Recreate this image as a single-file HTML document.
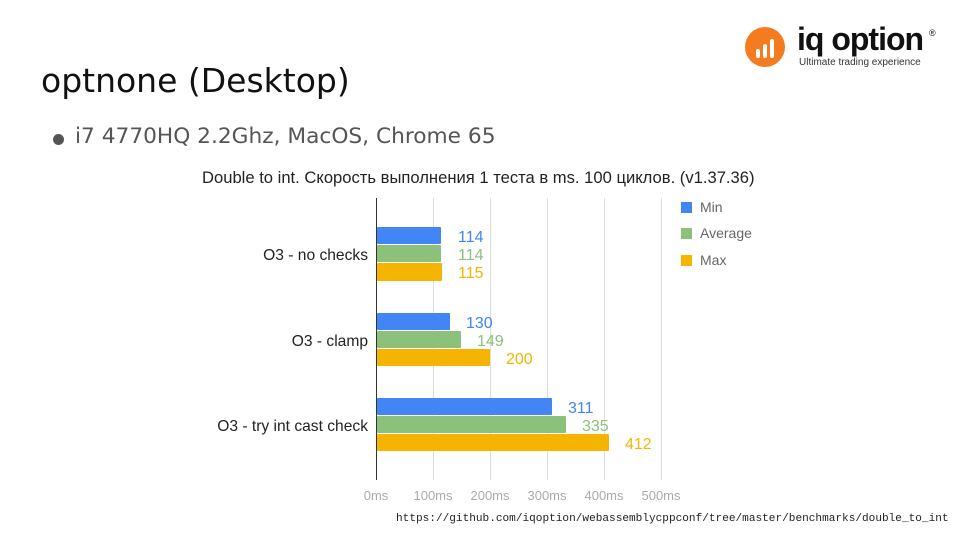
<!DOCTYPE html>
<html><head><meta charset="utf-8"><style>
body{margin:0;width:960px;height:540px;background:#fff;position:relative;overflow:hidden;font-family:"Liberation Sans",sans-serif}
.a{position:absolute;white-space:nowrap}
</style></head><body>
<div class="a" style="left:41px;top:61px;font-size:33px;color:#111;font-family:'DejaVu Sans',sans-serif">optnone (Desktop)</div>
<div class="a" style="left:53px;top:134px;width:11px;height:11px;border-radius:50%;background:#555"></div>
<div class="a" style="left:75px;top:124px;font-size:21.7px;color:#555;font-family:'DejaVu Sans',sans-serif">i7 4770HQ 2.2Ghz, MacOS, Chrome 65</div>
<svg class="a" style="left:744px;top:26px" width="42" height="42"><circle cx="21" cy="21" r="20" fill="#f47b20"/><rect x="12" y="23" width="4" height="9" fill="#fff" rx="2"/><rect x="19" y="18" width="4" height="14" fill="#fff" rx="2"/><rect x="26" y="13" width="4" height="19" fill="#fff" rx="2"/></svg>
<div class="a" style="left:797px;top:21px;font-size:32px;font-weight:bold;color:#111;letter-spacing:-1px">iq option</div>
<div class="a" style="left:929px;top:28px;font-size:9px;color:#111">®</div>
<div class="a" style="left:799px;top:57px;font-size:10px;color:#333">Ultimate trading experience</div>
<div class="a" style="left:202px;top:168px;font-size:16.6px;color:#222">Double to int. Скорость выполнения 1 теста в ms. 100 циклов. (v1.37.36)</div>
<svg class="a" style="left:0;top:0" width="960" height="540" font-family="Liberation Sans, sans-serif">
<g stroke="#ddd" stroke-width="1"><line x1="433.5" y1="198" x2="433.5" y2="480"/><line x1="490.5" y1="198" x2="490.5" y2="480"/><line x1="547.5" y1="198" x2="547.5" y2="480"/><line x1="604.5" y1="198" x2="604.5" y2="480"/><line x1="661.5" y1="198" x2="661.5" y2="480"/></g>
<line x1="376.5" y1="198" x2="376.5" y2="480" stroke="#333"/>
<g>
<rect x="377" y="227" width="64" height="17" fill="#4285f4" rx="1"/><rect x="377" y="245" width="64" height="17" fill="#8bc17a" rx="1"/><rect x="377" y="263" width="65" height="18" fill="#f4b400" rx="1"/>
<rect x="377" y="313" width="73" height="17" fill="#4285f4" rx="1"/><rect x="377" y="331" width="84" height="17" fill="#8bc17a" rx="1"/><rect x="377" y="349" width="113" height="17" fill="#f4b400" rx="1"/>
<rect x="377" y="398" width="175" height="17" fill="#4285f4" rx="1"/><rect x="377" y="416" width="189" height="17" fill="#8bc17a" rx="1"/><rect x="377" y="434" width="232" height="17" fill="#f4b400" rx="1"/>
</g>
<g font-size="16">
<text x="458" y="242" fill="#4285f4">114</text><text x="458" y="260" fill="#8bc17a">114</text><text x="458" y="278" fill="#f4b400">115</text>
<text x="466" y="328" fill="#4285f4">130</text><text x="477" y="346" fill="#8bc17a">149</text><text x="506" y="364" fill="#f4b400">200</text>
<text x="568" y="413" fill="#4285f4">311</text><text x="582" y="431" fill="#8bc17a">335</text><text x="625" y="449" fill="#f4b400">412</text>
</g>
<g font-size="15.6" fill="#222" text-anchor="end">
<text x="368" y="260">O3 - no checks</text><text x="368" y="346">O3 - clamp</text><text x="368" y="431">O3 - try int cast check</text>
</g>
<g font-size="13" fill="#aaa" text-anchor="middle">
<text x="376" y="500">0ms</text><text x="433" y="500">100ms</text><text x="490" y="500">200ms</text><text x="547" y="500">300ms</text><text x="604" y="500">400ms</text><text x="661" y="500">500ms</text>
</g>
<rect x="681" y="202" width="11" height="11" fill="#4285f4"/><text x="700" y="212" font-size="14" fill="#666">Min</text>
<rect x="681" y="228" width="11" height="11" fill="#8bc17a"/><text x="700" y="238" font-size="14" fill="#666">Average</text>
<rect x="681" y="255" width="11" height="11" fill="#f4b400"/><text x="700" y="265" font-size="14" fill="#666">Max</text>
</svg>
<div class="a" style="left:396px;top:513px;font-size:11.1px;color:#222;font-family:'Liberation Mono',monospace">https://github.com/iqoption/webassemblycppconf/tree/master/benchmarks/double_to_int</div>
</body></html>
